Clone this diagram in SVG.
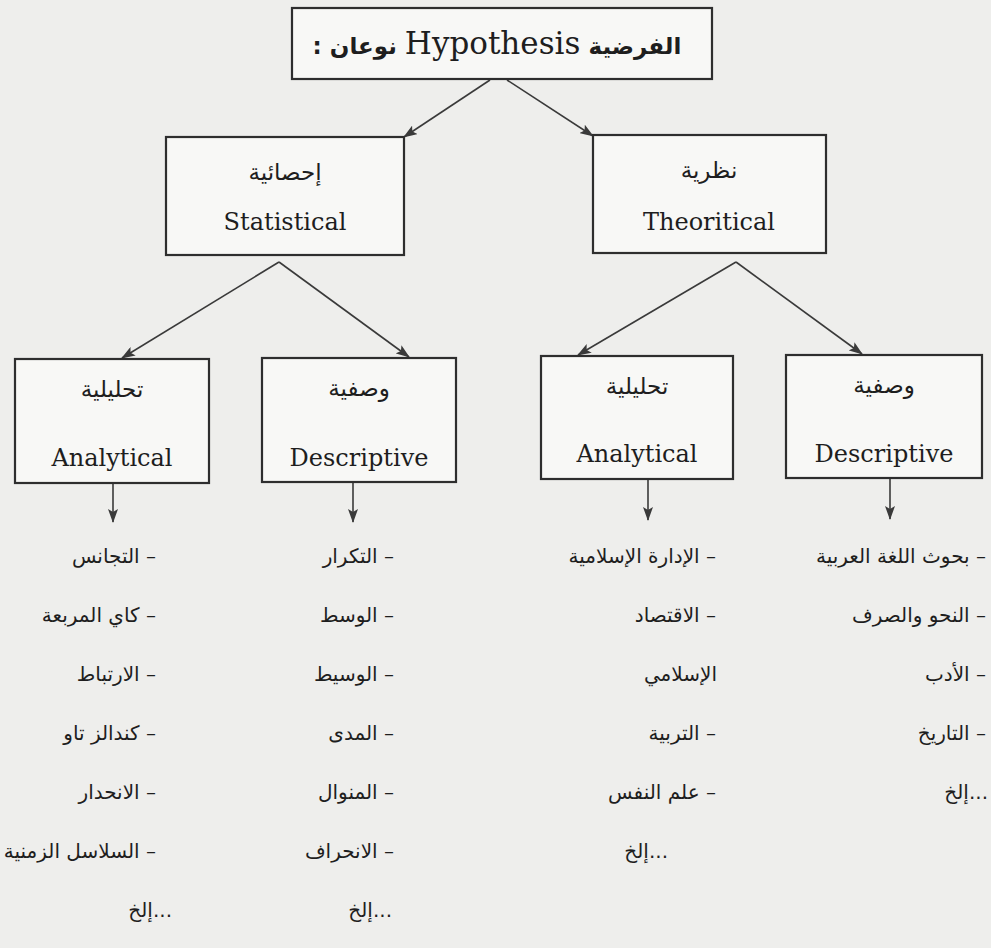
<svg xmlns="http://www.w3.org/2000/svg" width="991" height="948" viewBox="0 0 991 948">
  <defs>
    <marker id="arr" viewBox="0 0 14 10" refX="13" refY="5" markerWidth="14" markerHeight="10" markerUnits="userSpaceOnUse" orient="auto">
      <path d="M0,0 L14,5 L0,10 L3,5 z" fill="#3a3a3a"/>
    </marker>
    <style>
      .box { fill: #f8f8f6; stroke: #2e2e2e; stroke-width: 2.2; }
      .lat { font-family: 'DejaVu Serif', 'Liberation Serif', serif; font-size: 24px; fill: #1e1e1e; text-anchor: middle; }
      .ar { font-family: 'DejaVu Sans', 'Noto Sans', sans-serif; font-size: 23px; fill: #1e1e1e; text-anchor: middle; }
      .li { font-family: 'DejaVu Sans', 'Noto Sans', sans-serif; font-size: 20px; fill: #1e1e1e; text-anchor: end; }
      .con { stroke: #3a3a3a; stroke-width: 1.6; fill: none; marker-end: url(#arr); }
    </style>
  </defs>
  <rect x="0" y="0" width="991" height="948" fill="#eeeeec"/>

  <g id="connectors">
    <line class="con" x1="490" y1="80" x2="404" y2="137"/>
    <line class="con" x1="507" y1="80" x2="593" y2="136"/>
    <line class="con" x1="279" y1="262" x2="122" y2="358"/>
    <line class="con" x1="279" y1="262" x2="409" y2="357"/>
    <line class="con" x1="736" y1="262" x2="578" y2="355"/>
    <line class="con" x1="736" y1="262" x2="862" y2="354"/>
    <line class="con" x1="113" y1="484" x2="113" y2="522"/>
    <line class="con" x1="353" y1="483" x2="353" y2="522"/>
    <line class="con" x1="648" y1="480" x2="648" y2="520"/>
    <line class="con" x1="890" y1="479" x2="890" y2="519"/>
  </g>

  <g id="hypothesis">
    <rect class="box" x="292" y="8" width="420" height="71"/>
    <text x="497" y="54" direction="rtl" text-anchor="middle" font-family="'DejaVu Sans', sans-serif" font-size="23" font-weight="bold" fill="#1e1e1e">الفرضية <tspan font-family="'DejaVu Serif', 'Liberation Serif', serif" font-weight="normal" font-size="31">Hypothesis</tspan> نوعان :</text>
  </g>

  <g id="statistical">
    <rect class="box" x="166" y="137" width="238" height="118"/>
    <text class="ar" x="285" y="180">إحصائية</text>
    <text class="lat" x="285" y="230">Statistical</text>
  </g>

  <g id="theoretical">
    <rect class="box" x="593" y="135" width="233" height="118"/>
    <text class="ar" x="709" y="178">نظرية</text>
    <text class="lat" x="709" y="230">Theoritical</text>
  </g>

  <g id="stat-analytical">
    <rect class="box" x="15" y="359" width="194" height="124"/>
    <text class="ar" x="112" y="397">تحليلية</text>
    <text class="lat" x="112" y="466">Analytical</text>
  </g>

  <g id="stat-descriptive">
    <rect class="box" x="262" y="358" width="194" height="124"/>
    <text class="ar" x="359" y="396">وصفية</text>
    <text class="lat" x="359" y="466">Descriptive</text>
  </g>

  <g id="theo-analytical">
    <rect class="box" x="541" y="356" width="192" height="123"/>
    <text class="ar" x="637" y="394">تحليلية</text>
    <text class="lat" x="637" y="462">Analytical</text>
  </g>

  <g id="theo-descriptive">
    <rect class="box" x="786" y="355" width="196" height="123"/>
    <text class="ar" x="884" y="393">وصفية</text>
    <text class="lat" x="884" y="462">Descriptive</text>
  </g>

  <g id="list-stat-analytical">
    <text class="li" x="156" y="563">&#x200F;– التجانس</text>
    <text class="li" x="156" y="622">&#x200F;– كاي المربعة</text>
    <text class="li" x="156" y="681">&#x200F;– الارتباط</text>
    <text class="li" x="156" y="740">&#x200F;– كندالز تاو</text>
    <text class="li" x="156" y="799">&#x200F;– الانحدار</text>
    <text class="li" x="156" y="858">&#x200F;– السلاسل الزمنية</text>
    <text class="li" x="172" y="917">إلخ...</text>
  </g>

  <g id="list-stat-descriptive">
    <text class="li" x="394" y="563">&#x200F;– التكرار</text>
    <text class="li" x="394" y="622">&#x200F;– الوسط</text>
    <text class="li" x="394" y="681">&#x200F;– الوسيط</text>
    <text class="li" x="394" y="740">&#x200F;– المدى</text>
    <text class="li" x="394" y="799">&#x200F;– المنوال</text>
    <text class="li" x="394" y="858">&#x200F;– الانحراف</text>
    <text class="li" x="392" y="917">إلخ...</text>
  </g>

  <g id="list-theo-analytical">
    <text class="li" x="716" y="563">&#x200F;– الإدارة الإسلامية</text>
    <text class="li" x="716" y="622">&#x200F;– الاقتصاد</text>
    <text class="li" x="717" y="681">الإسلامي</text>
    <text class="li" x="716" y="740">&#x200F;– التربية</text>
    <text class="li" x="716" y="799">&#x200F;– علم النفس</text>
    <text class="li" x="668" y="858">إلخ...</text>
  </g>

  <g id="list-theo-descriptive">
    <text class="li" x="986" y="563">&#x200F;– بحوث اللغة العربية</text>
    <text class="li" x="986" y="622">&#x200F;– النحو والصرف</text>
    <text class="li" x="986" y="681">&#x200F;– الأدب</text>
    <text class="li" x="986" y="740">&#x200F;– التاريخ</text>
    <text class="li" x="988" y="799">إلخ...</text>
  </g>
</svg>
